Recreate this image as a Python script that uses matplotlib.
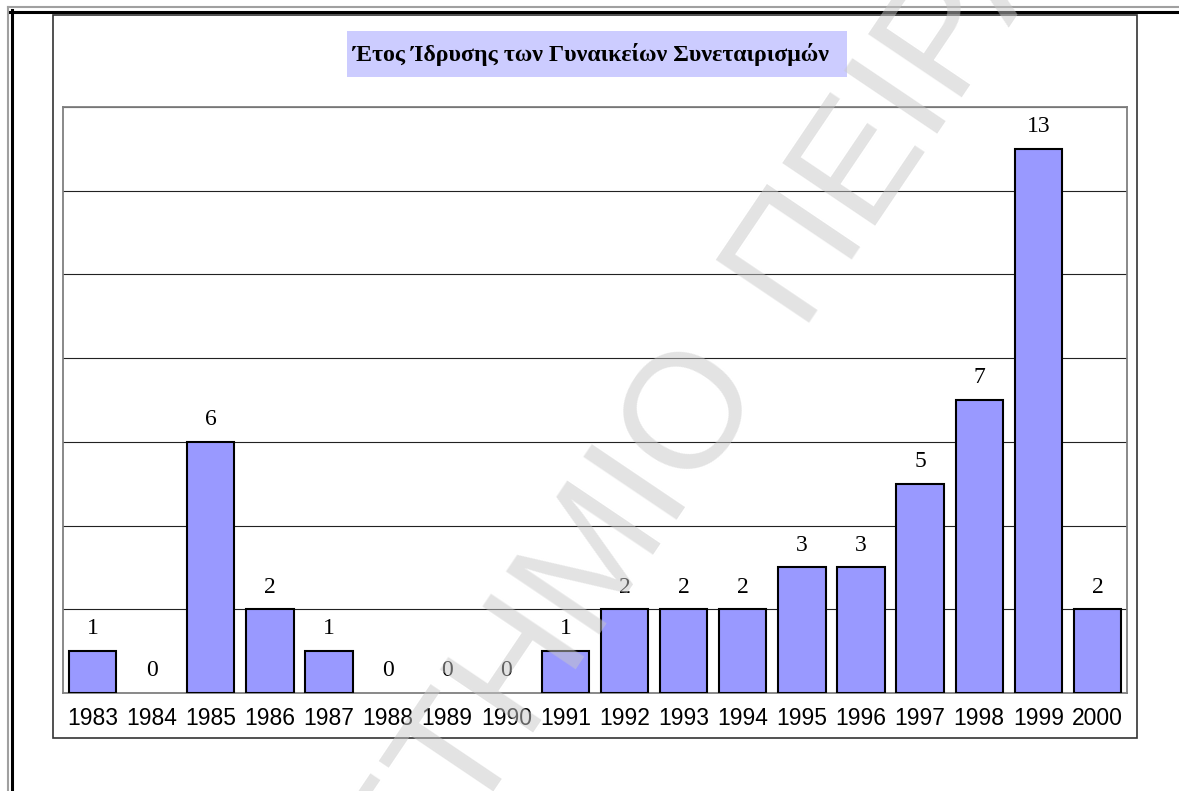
import matplotlib
matplotlib.use('Agg')
import matplotlib.pyplot as plt
from matplotlib.lines import Line2D
from matplotlib.patches import Rectangle
import numpy as np

years = ['1983', '1984', '1985', '1986', '1987', '1988', '1989', '1990', '1991',
         '1992', '1993', '1994', '1995', '1996', '1997', '1998', '1999', '2000']
counts = [1, 0, 6, 2, 1, 0, 0, 0, 1, 2, 2, 2, 3, 3, 5, 7, 13, 2]
title = 'Έτος Ίδρυσης των Γυναικείων Συνεταιρισμών'
watermark_left = 'ΠΑΝΕΠΙΣΤΗΜΙΟ'
watermark_right = 'ΠΕΙΡΑΙΩΣ'

W, H = 1179, 791

def fx(px):
    return px / W

def fy(py):
    return 1 - py / H

fig = plt.figure(figsize=(W / 100, H / 100), dpi=100)
fig.patch.set_facecolor('white')

# page frame
fig.add_artist(Line2D([fx(8), 1], [fy(7), fy(7)], color='#a0a0a0', lw=1.5))
fig.add_artist(Line2D([fx(8), fx(8)], [fy(7), 0], color='#a0a0a0', lw=1.5))
fig.add_artist(Line2D([fx(10), 1], [fy(11.5), fy(11.5)], color='black', lw=2.2))
fig.add_artist(Line2D([fx(11.5), fx(11.5)], [fy(10), 0], color='black', lw=2.2))

# chart area border
fig.add_artist(Rectangle((fx(53), fy(738)), fx(1137) - fx(53), fy(15) - fy(738),
                         fill=False, edgecolor='#333333', lw=1.2))

# title box
fig.add_artist(Rectangle((fx(347), fy(77)), fx(847) - fx(347), fy(31) - fy(77),
                         facecolor='#ccccff', edgecolor='none'))
fig.text(fx(353), fy(54), title, ha='left', va='center', fontsize=17.2,
         fontweight='bold', family='Liberation Serif')

ax = fig.add_axes([fx(63), fy(693), fx(1127) - fx(63), fy(107) - fy(693)])
x = np.arange(len(years))
edges = ['black' if c > 0 else 'none' for c in counts]
ax.bar(x, counts, width=0.8, color='#9999ff', edgecolor=edges, lw=1.5, zorder=3)
ax.set_xlim(-0.5, len(years) - 0.5)
ax.set_ylim(0, 14)
ax.set_yticks(np.arange(0, 15, 2))
ax.yaxis.grid(True, color='#222222', lw=0.8, zorder=0)
ax.set_axisbelow(True)
ax.tick_params(axis='y', length=0, labelleft=False)
ax.set_xticks(x)
ax.set_xticklabels(years, family='Liberation Sans', fontsize=16.5)
ax.tick_params(axis='x', length=0, pad=10)
for s in ax.spines.values():
    s.set_color('#808080')
    s.set_linewidth(1.3)

for i, c in enumerate(counts):
    ax.annotate(str(c), (i, c), xytext=(0, 12), textcoords='offset points',
                ha='center', va='baseline', fontsize=17, family='Liberation Serif')

# watermark
fig.text(fx(760), fy(377), watermark_left, rotation=56, rotation_mode='anchor',
         ha='right', va='baseline', fontsize=118, family='Liberation Sans',
         color='#c8c8c8', alpha=0.5, zorder=10)
fig.text(fx(796), fy(323), watermark_right, rotation=56, rotation_mode='anchor',
         ha='left', va='baseline', fontsize=118, family='Liberation Sans',
         color='#c8c8c8', alpha=0.5, zorder=10)

fig.savefig('out.png', dpi=100)
